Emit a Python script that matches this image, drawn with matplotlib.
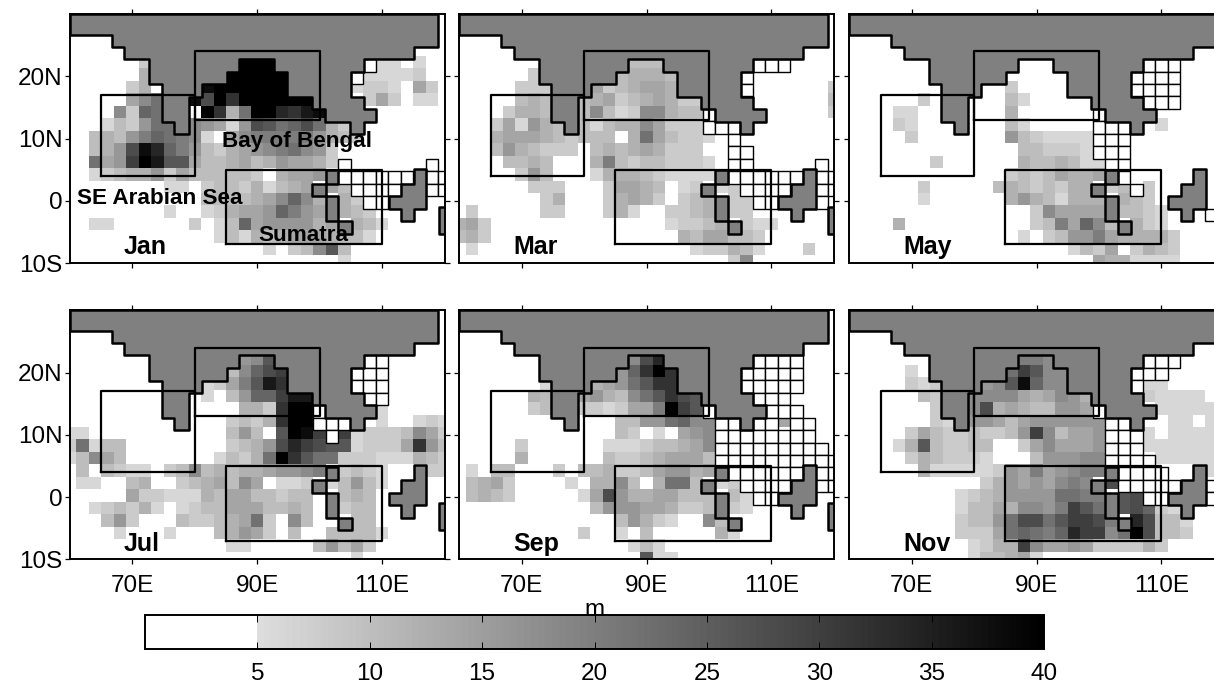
import matplotlib
matplotlib.use('Agg')
import matplotlib.pyplot as plt
from matplotlib.cm import ScalarMappable
from matplotlib.colors import LinearSegmentedColormap, Normalize
import numpy as np

plt.rcParams['font.family'] = ['Liberation Sans', 'DejaVu Sans']

# one string per latitude row (north to south), one char per longitude (60E..120E)
# '.' no value / white, '#' outlined empty cell, a..r = 6, 8, ... 40 m
JAN = ["......b.......rrr.......#aa.a..",
       "......d......rrrrr.....#aaaab..",
       ".....bd....qrrrrrr.....abba.eb.",
       ".....egi..qlrnrrrrrr....beb.aa.",
       "....gbji...rndirronpq..........",
       "...acbfii.gfeaflkijlidb........",
       "..cdcfhjihga.eghhhhhfdcb.......",
       "..cdflqojhfcbdefghigfb.........",
       "..iefmrpkkeccdecdfeedb#......#.",
       "..abcddfbecccccb.deef.######.##",
       "........aa.bccbdacde.ec####..##",
       "...........ccccdegjgd.db##.....",
       "........a..abdeefjhfe.dcb......",
       "..aa......b.acjeffffde.dca.....",
       "............acadcdeeedcca......",
       "................a.bcgkc........",
       "......................a........"]
MAR = ["..............ccc.......###....",
       "......b......cdddc.....#.......",
       ".....bbb...ebcdeed.....#......b",
       ".....cdc..cdebcdedbb..........c",
       "....bddc..cgcabggdcc#.........b",
       "...beafdc.cacddgebbb###........",
       "...deeedcbccc.diecbba.#........",
       "...cfdcbbb.cdcdedbbb..##.......",
       "....ccdc...dhcbccbbba.##.....#.",
       ".....bfc...adddcbaaaa.######.##",
       "......bbb...beedc.ab.ab####..##",
       ".......bd...bdedb.bcd.bb##...#.",
       ".b.....bb...bda..bbcd.bb.......",
       "deb..............abbcd.baa.....",
       "cdb...............dceeccb......",
       ".a.................abbdca...b..",
       "......................bg......."]
MAY = ["........................###....",
       ".......................####....",
       ".............b.........####....",
       "......b......ca.........###....",
       "....aa.......d......#..........",
       "....ba.......ca.....###..a.....",
       ".....b.......fcbaaaa###........",
       "..............ccbbba###........",
       ".......b......dccdcaa##........",
       ".............bcbcedde.#........",
       "......b.....cdcbcbdd.bc#b......",
       "......a......dfdcaddd.dcb......",
       "...............bgeeee.ccba...#.",
       "....d..........bchejgc.dba.....",
       "..............a.bcffheddddb....",
       "..................acbe.bdcb....",
       "....................eddaaaa...."]
JUL = ["..............fgk.......##.....",
       ".............cgjlm.....###.....",
       "...........abehkpn.....###.....",
       "...........a.cfjjmpp....##.....",
       "..............ddbnrr#....a.....",
       ".............bcbdnrr###..a..aba",
       "aa...........cfc.krqm#mabbbcgeb",
       "biacc........bcdflomlkkabbbenfc",
       "acgec.......acbdirnkiibbbaaadcb",
       ".c.cbaa.bcgcdcddeffgh.bcba...bb",
       ".aa..cd..bcdecge.aab.acfca.....",
       ".....ebbaaadceeccbcc..cdc......",
       "..abcbda.abcceeeccdc..bcc......",
       "...cfb...cbbcdeib.gc...cc......",
       "....a...a...cdfeb.c..cccca.....",
       ".............aa.....cfceb......",
       ".......................a......."]
SEP = ["..............glo.......####...",
       ".............fjnrn.....#####...",
       ".......a...defiknn.....#####...",
       "......dc..efdcgiknlk....###....",
       "......bc..bbabeehrmk#....###...",
       ".............ccffijgg##.##e##..",
       ".............cb.a.efg########..",
       ".....b......aaabccdeg#########.",
       ".....d......cbbcdeeec##########",
       ".a.cc...b.ccdbbceffde.######.##",
       ".cdeb....a.ddgc.diic.ab####..##",
       ".cdcb.....aelfddeeccc.ca##.....",
       "...........cfffeedbbc.ba.......",
       ".............cfdba..gc.........",
       "..........b..a.c.....da........",
       "..............aca..............",
       "...............kaa............."]
NOV = ["..............hhg.......###....",
       ".....a.......imkgg.....###.....",
       ".....bab...fgkqjgg.....#aa.....",
       "......cb..ggggedegfd....baaaa..",
       ".......b..gldedccffe#....aaaaa.",
       ".......ba.ffeceffffff##...aa.ab",
       ".....becbbcbbcfmgceef###a.aaaaa",
       "....adkcbbcc..begeeef###aaaaaaa",
       ".....bdcbbba...cfffgg####aaaaaa",
       "......daaaaabfehefghh.####...a.",
       "...........bdfefeghg.l#####..##",
       ".........abcdffffiihh.kl##...#.",
       ".........accedggfhmki.kljba....",
       ".........bccfillikmmlh.olcca...",
       ".........bbbeijihjommgirlccb...",
       "..........abddmgeefebbbbdb.....",
       "..........accdea..............."]

MONTHS = ['Jan', 'Mar', 'May', 'Jul', 'Sep', 'Nov']
PANELS = [JAN, MAR, MAY, JUL, SEP, NOV]

# coastline, degrees
MAIN_LON = [60, 66.7, 66.7, 68.7, 68.7, 72.7, 72.7, 74.7, 74.7, 76.7, 76.7, 79, 79, 81.1,
            81.1, 85.1, 85.1, 87.1, 87.1, 92.7, 92.7, 94.8, 94.8, 98.8, 98.8, 100.9, 100.9,
            104.9, 104.9, 107.1, 107.1, 109.1, 109.1, 107.1, 107.1, 105.1, 105.1, 107.1,
            107.1, 115.1, 115.1, 119, 119, 60]
MAIN_LAT = [26.7, 26.7, 24.7, 24.7, 22.75, 22.75, 18.7, 18.7, 12.7, 12.7, 10.7, 10.7, 16.7,
            16.7, 18.7, 18.7, 20.7, 20.7, 22.75, 22.75, 20.7, 20.7, 16.7, 16.7, 14.75, 14.75,
            12.7, 12.7, 10.7, 10.7, 12.7, 12.7, 14.75, 14.75, 16.7, 16.7, 20.7, 20.7, 22.75,
            22.75, 24.7, 24.7, 30, 30]
SUMATRA_LON = [101, 103, 103, 101, 101, 103, 103, 105.2, 105.2, 103, 103, 101, 101, 98.8, 98.8, 101]
SUMATRA_LAT = [4.9, 4.9, 2.7, 2.7, 0.7, 0.7, -3.3, -3.3, -5.3, -5.3, -3.3, -3.3, 0.7, 0.7, 2.7, 2.7]
BORNEO_LON = [115.1, 117.1, 117.1, 115.1, 115.1, 113.1, 113.1, 111.1, 111.1, 113.1, 113.1, 115.1]
BORNEO_LAT = [5.1, 5.1, -1.3, -1.3, -3.3, -3.3, -1.3, -1.3, 0.7, 0.7, 2.7, 2.7]
ISLE_LON = [119.1, 121, 121, 119.1]
ISLE_LAT = [-1, -1, -5.3, -5.3]

# analysis boxes: lon0, lon1, lat0, lat1
BOXES = [(65, 80, 4, 17), (80, 100, 13, 24), (85, 110, -7, 5)]

XTICKS = [70, 90, 110]
XLABELS = ['70E', '90E', '110E']
YTICKS = [-10, 0, 10, 20]
YLABELS = ['10S', '0', '10N', '20N']
CBAR_TICKS = [5, 10, 15, 20, 25, 30, 35, 40]

W, H = 1214, 683
LAND = '#808080'

cmap = LinearSegmentedColormap.from_list(
    'depth', [(0, 'white'), (4.8 / 40, 'white'), (4.81 / 40, '#dedede'), (1, 'black')], N=128)
norm = Normalize(0, 40)

lon_edges = np.arange(59, 122, 2)
lat_edges = 23.25 - 2 * np.arange(18)


def decode(rows):
    vals = np.full((len(rows), len(rows[0])), np.nan)
    empty = np.zeros(vals.shape, dtype=bool)
    for i, row in enumerate(rows):
        for j, c in enumerate(row):
            if c == '#':
                empty[i, j] = True
            elif c != '.':
                vals[i, j] = 6 + 2 * (ord(c) - ord('a'))
    return vals, empty


def axes_px(left, top, width, height):
    return fig.add_axes([left / W, 1 - (top + height) / H, width / W, height / H])


fig = plt.figure(figsize=(W / 100, H / 100), dpi=100)
lefts = [70, 459.3, 849.3]
tops = [14, 310.3]

for n, (rows, month) in enumerate(zip(PANELS, MONTHS)):
    col, row = n % 3, n // 3
    ax = axes_px(lefts[col], tops[row], 374.5, 249)
    vals, empty = decode(rows)
    ax.pcolormesh(lon_edges, lat_edges, np.ma.masked_invalid(vals), cmap=cmap, norm=norm, zorder=1)
    # empty cells sit half a degree lower than the data grid in the original
    ii, jj = np.nonzero(empty)
    ax.bar(lon_edges[jj] + 1, 2, width=2, bottom=lat_edges[ii + 1] - 0.5, facecolor='white',
           edgecolor='black', linewidth=1.0, zorder=2)
    for lon, lat in [(MAIN_LON, MAIN_LAT), (SUMATRA_LON, SUMATRA_LAT),
                     (BORNEO_LON, BORNEO_LAT), (ISLE_LON, ISLE_LAT)]:
        ax.fill(lon, lat, facecolor=LAND, edgecolor='black', linewidth=1.8, joinstyle='round', zorder=3)
    for x0, x1, y0, y1 in BOXES:
        ax.plot([x0, x1, x1, x0, x0], [y0, y0, y1, y1, y0], color='black', lw=1.6,
                solid_joinstyle='round', zorder=4)

    ax.set_xlim(60, 120)
    ax.set_ylim(-10, 30)
    ax.set_xticks(XTICKS)
    ax.set_yticks(YTICKS[1:])
    ax.tick_params(top=True, right=True, length=3.5, width=0.9, labelsize=17.5,
                   labelbottom=False, labelleft=False)
    ax.tick_params(axis='x', pad=8)
    ax.tick_params(axis='y', pad=2)
    for spine in ax.spines.values():
        spine.set_linewidth(1.4)
        spine.set_zorder(6)
    if row == 1:
        ax.set_xticklabels(XLABELS)
        ax.tick_params(labelbottom=True)
    if col == 0:
        ax.set_yticks(YTICKS)
        ax.set_yticklabels(YLABELS)
        ax.tick_params(labelleft=True)
    ax.text(68.6, -8.6, month, fontsize=18, fontweight='bold', zorder=7)
    if n == 0:
        ax.text(84.3, 8.6, 'Bay of Bengal', fontsize=16.2, fontweight='bold', zorder=7)
        ax.text(61.1, -0.5, 'SE Arabian Sea', fontsize=16.2, fontweight='bold', zorder=7)
        ax.text(90.2, -6.4, 'Sumatra', fontsize=16.2, fontweight='bold', zorder=7)

cax = axes_px(145, 615, 899, 34)
cb = fig.colorbar(ScalarMappable(norm=norm, cmap=cmap), cax=cax, orientation='horizontal',
                  ticks=CBAR_TICKS)
cb.outline.set_linewidth(1.4)
cax.tick_params(direction='in', top=True, bottom=True, length=5, width=0.7, labelsize=17.5, pad=10)
cax.set_title('m', fontsize=17.5, pad=-1)

fig.savefig('out.png', dpi=100)
